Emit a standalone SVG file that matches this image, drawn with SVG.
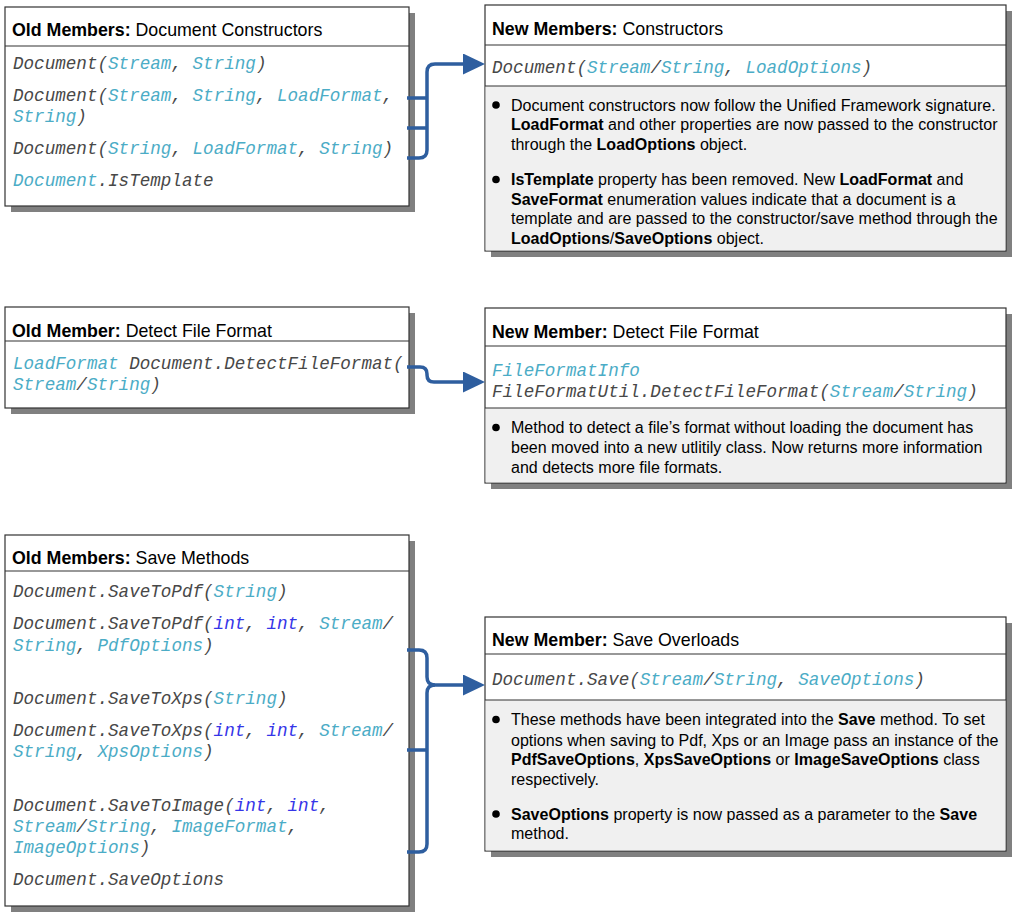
<svg xmlns="http://www.w3.org/2000/svg" width="1021" height="917" viewBox="0 0 1021 917">
<style>
.bg{fill:#fff}
.shadow{fill:#808080}
.box{fill:#fff;stroke:#333;stroke-width:1.2}
.desc{fill:#f0f0f0}
.dv{stroke:#333;stroke-width:1.2}
.hdr{font-family:"Liberation Sans",Arial,sans-serif;font-size:17.8px;fill:#000}
.b{font-weight:bold}
.code{font-family:"Liberation Mono","Courier New",monospace;font-style:italic;font-size:17.6px;fill:#484848}
.t{fill:#4BACC6}
.i{fill:#3535E8}
.body{font-family:"Liberation Sans",Arial,sans-serif;font-size:16.05px;fill:#000}
.dot{fill:#000}
.conn{fill:none;stroke:#2E5E9F;stroke-width:3.5;stroke-linejoin:round}
</style>
<defs>
<marker id="arr" markerUnits="userSpaceOnUse" markerWidth="22" markerHeight="21" refX="12" refY="10.5" orient="auto">
<path d="M0,0 L22,10.5 L0,21 z" fill="#2E5E9F"/>
</marker>
</defs>
<rect class="bg" x="0" y="0" width="1021" height="917"/>

<g id="old-constructors">
<rect class="shadow" x="11" y="13" width="404" height="199"/>
<rect class="box" x="5" y="7" width="404" height="199"/>
<line class="dv" x1="5" y1="46" x2="409" y2="46"/>
<text class="hdr" x="12" y="36"><tspan class="b">Old Members:</tspan> Document Constructors</text>
<text class="code" x="13" y="69">Document(<tspan class="t">Stream</tspan>, <tspan class="t">String</tspan>)</text>
<text class="code" x="13" y="101">Document(<tspan class="t">Stream</tspan>, <tspan class="t">String</tspan>, <tspan class="t">LoadFormat</tspan>,</text>
<text class="code" x="13" y="122"><tspan class="t">String</tspan>)</text>
<text class="code" x="13" y="154">Document(<tspan class="t">String</tspan>, <tspan class="t">LoadFormat</tspan>, <tspan class="t">String</tspan>)</text>
<text class="code" x="13" y="186"><tspan class="t">Document</tspan>.IsTemplate</text>
</g>

<g id="new-constructors">
<rect class="shadow" x="491" y="11" width="521" height="246"/>
<rect class="box" x="485" y="5" width="521" height="246"/>
<rect class="desc" x="485.6" y="86" width="519.8" height="164.4"/>
<line class="dv" x1="485" y1="45" x2="1006" y2="45"/>
<line class="dv" x1="485" y1="86" x2="1006" y2="86"/>
<text class="hdr" x="492" y="35"><tspan class="b">New Members:</tspan> Constructors</text>
<text class="code" x="492" y="73">Document(<tspan class="t">Stream</tspan>/<tspan class="t">String</tspan>, <tspan class="t">LoadOptions</tspan>)</text>
<circle class="dot" cx="496" cy="105" r="3.8"/>
<text class="body" x="511" y="110.5">Document constructors now follow the Unified Framework signature.</text>
<text class="body" x="511" y="130"><tspan class="b">LoadFormat</tspan> and other properties are now passed to the constructor</text>
<text class="body" x="511" y="149.5">through the <tspan class="b">LoadOptions</tspan> object.</text>
<circle class="dot" cx="496" cy="179.5" r="3.8"/>
<text class="body" x="511" y="185"><tspan class="b">IsTemplate</tspan> property has been removed. New <tspan class="b">LoadFormat</tspan> and</text>
<text class="body" x="511" y="204.5"><tspan class="b">SaveFormat</tspan> enumeration values indicate that a document is a</text>
<text class="body" x="511" y="224">template and are passed to the constructor/save method through the</text>
<text class="body" x="511" y="243.5"><tspan class="b">LoadOptions</tspan>/<tspan class="b">SaveOptions</tspan> object.</text>
</g>

<g id="old-detect">
<rect class="shadow" x="11" y="313" width="404" height="101"/>
<rect class="box" x="5" y="307" width="404" height="101"/>
<line class="dv" x1="5" y1="341" x2="409" y2="341"/>
<text class="hdr" x="12" y="337"><tspan class="b">Old Member:</tspan> Detect File Format</text>
<text class="code" x="13" y="369"><tspan class="t">LoadFormat</tspan> Document.DetectFileFormat(</text>
<text class="code" x="13" y="390"><tspan class="t">Stream</tspan>/<tspan class="t">String</tspan>)</text>
</g>

<g id="new-detect">
<rect class="shadow" x="491" y="314" width="521" height="175"/>
<rect class="box" x="485" y="308" width="521" height="175"/>
<rect class="desc" x="485.6" y="408" width="519.8" height="74.4"/>
<line class="dv" x1="485" y1="346" x2="1006" y2="346"/>
<line class="dv" x1="485" y1="408" x2="1006" y2="408"/>
<text class="hdr" x="492" y="338"><tspan class="b">New Member:</tspan> Detect File Format</text>
<text class="code" x="492" y="376"><tspan class="t">FileFormatInfo</tspan></text>
<text class="code" x="492" y="397">FileFormatUtil.DetectFileFormat(<tspan class="t">Stream</tspan>/<tspan class="t">String</tspan>)</text>
<circle class="dot" cx="496" cy="427.5" r="3.8"/>
<text class="body" x="511" y="433">Method to detect a file’s format without loading the document has</text>
<text class="body" x="511" y="453">been moved into a new utlitily class. Now returns more information</text>
<text class="body" x="511" y="472.5">and detects more file formats.</text>
</g>

<g id="old-save">
<rect class="shadow" x="11" y="541" width="404" height="371"/>
<rect class="box" x="5" y="535" width="404" height="371"/>
<line class="dv" x1="5" y1="571" x2="409" y2="571"/>
<text class="hdr" x="12" y="564"><tspan class="b">Old Members:</tspan> Save Methods</text>
<text class="code" x="13" y="597">Document.SaveToPdf(<tspan class="t">String</tspan>)</text>
<text class="code" x="13" y="629">Document.SaveToPdf(<tspan class="i">int</tspan>, <tspan class="i">int</tspan>, <tspan class="t">Stream</tspan>/</text>
<text class="code" x="13" y="651"><tspan class="t">String</tspan>, <tspan class="t">PdfOptions</tspan>)</text>
<text class="code" x="13" y="704">Document.SaveToXps(<tspan class="t">String</tspan>)</text>
<text class="code" x="13" y="736">Document.SaveToXps(<tspan class="i">int</tspan>, <tspan class="i">int</tspan>, <tspan class="t">Stream</tspan>/</text>
<text class="code" x="13" y="757"><tspan class="t">String</tspan>, <tspan class="t">XpsOptions</tspan>)</text>
<text class="code" x="13" y="811">Document.SaveToImage(<tspan class="i">int</tspan>, <tspan class="i">int</tspan>,</text>
<text class="code" x="13" y="832"><tspan class="t">Stream</tspan>/<tspan class="t">String</tspan>, <tspan class="t">ImageFormat</tspan>,</text>
<text class="code" x="13" y="853"><tspan class="t">ImageOptions</tspan>)</text>
<text class="code" x="13" y="885">Document.SaveOptions</text>
</g>

<g id="new-save">
<rect class="shadow" x="491" y="623" width="521" height="234"/>
<rect class="box" x="485" y="617" width="521" height="234"/>
<rect class="desc" x="485.6" y="700" width="519.8" height="150.4"/>
<line class="dv" x1="485" y1="654" x2="1006" y2="654"/>
<line class="dv" x1="485" y1="700" x2="1006" y2="700"/>
<text class="hdr" x="492" y="646"><tspan class="b">New Member:</tspan> Save Overloads</text>
<text class="code" x="492" y="685">Document.Save(<tspan class="t">Stream</tspan>/<tspan class="t">String</tspan>, <tspan class="t">SaveOptions</tspan>)</text>
<circle class="dot" cx="496" cy="719.5" r="3.8"/>
<text class="body" x="511" y="725">These methods have been integrated into the <tspan class="b">Save</tspan> method. To set</text>
<text class="body" x="511" y="745.5">options when saving to Pdf, Xps or an Image pass an instance of the</text>
<text class="body" x="511" y="765"><tspan class="b">PdfSaveOptions</tspan>, <tspan class="b">XpsSaveOptions</tspan> or <tspan class="b">ImageSaveOptions</tspan> class</text>
<text class="body" x="511" y="784.5">respectively.</text>
<circle class="dot" cx="496" cy="814" r="3.8"/>
<text class="body" x="511" y="819.5"><tspan class="b">SaveOptions</tspan> property is now passed as a parameter to the <tspan class="b">Save</tspan></text>
<text class="body" x="511" y="839">method.</text>
</g>

<g id="connectors">
<path class="conn" d="M407,98 H427 M407,128 H427 M407,158 H419 Q427,158 427,150 V72 Q427,64 435,64 H475" marker-end="url(#arr)"/>
<path class="conn" d="M407,367 H420 Q427,367 427,374 V375 Q427,382 434,382 H475" marker-end="url(#arr)"/>
<path class="conn" d="M407,650 H419 Q427,650 427,658 V677 Q427,685 435,685 H475" marker-end="url(#arr)"/>
<path class="conn" d="M435,685 Q427,685 427,693 V844 Q427,852 419,852 H407 M407,750 H427"/>
</g>
</svg>
